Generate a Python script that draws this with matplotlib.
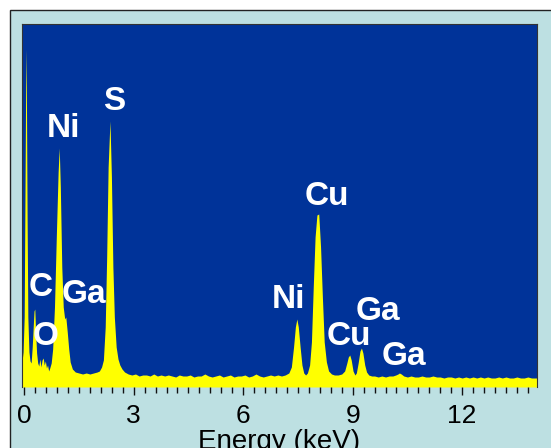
import matplotlib.pyplot as plt
from matplotlib.patches import Rectangle
from matplotlib.ticker import MultipleLocator

# EDS spectrum (energy in keV, counts in arbitrary units)
energy = [-0.06, -0.03, 0.0, 0.02, 0.04, 0.05, 0.06, 0.08, 0.10, 0.13, 0.16, 0.19,
          0.22, 0.25, 0.27, 0.29, 0.31, 0.34, 0.37, 0.40, 0.43, 0.46, 0.49, 0.52,
          0.55, 0.58, 0.61, 0.64, 0.67, 0.70, 0.74, 0.78, 0.83, 0.88, 0.93, 0.96,
          0.99, 1.03, 1.07, 1.11, 1.14, 1.18, 1.22, 1.26, 1.32, 1.40, 1.50, 1.60,
          1.70, 1.80, 1.90, 2.00, 2.06, 2.12, 2.17, 2.22, 2.26, 2.30, 2.35, 2.39,
          2.43, 2.47, 2.52, 2.57, 2.62, 2.68, 2.75, 2.85, 2.95, 3.05, 3.15, 3.25,
          3.35, 3.45, 3.55, 3.65, 3.75, 3.85, 3.95, 4.05, 4.15, 4.25, 4.35, 4.45,
          4.55, 4.65, 4.75, 4.85, 4.95, 5.05, 5.15, 5.25, 5.35, 5.45, 5.55, 5.65,
          5.75, 5.85, 5.95, 6.05, 6.15, 6.25, 6.35, 6.45, 6.55, 6.65, 6.75, 6.85,
          6.95, 7.05, 7.15, 7.25, 7.32, 7.38, 7.43, 7.47, 7.51, 7.56, 7.61, 7.66,
          7.71, 7.76, 7.82, 7.87, 7.92, 7.97, 8.02, 8.07, 8.12, 8.17, 8.22, 8.28,
          8.34, 8.42, 8.50, 8.60, 8.70, 8.78, 8.84, 8.88, 8.92, 8.96, 9.01, 9.06,
          9.10, 9.15, 9.20, 9.24, 9.28, 9.33, 9.38, 9.44, 9.52, 9.60, 9.70, 9.80,
          9.90, 10.00, 10.10, 10.18, 10.24, 10.28, 10.33, 10.40, 10.50, 10.60,
          10.70, 10.80, 10.90, 11.00, 11.10, 11.20, 11.30, 11.40, 11.50, 11.60,
          11.70, 11.80, 11.90, 12.00, 12.10, 12.20, 12.30, 12.40, 12.50, 12.60,
          12.70, 12.80, 12.90, 13.00, 13.10, 13.20, 13.30, 13.40, 13.50, 13.60,
          13.70, 13.80, 13.90, 14.05]
counts = [25, 35, 70, 180, 300, 338, 300, 170, 70, 35, 26, 24,
          40, 62, 76, 78, 58, 34, 24, 21, 28, 20, 27, 29,
          22, 26, 19, 22, 16, 19, 24, 38, 80, 150, 215, 239,
          200, 120, 80, 68, 70, 55, 38, 25, 18, 15, 14, 13,
          14, 13, 14, 15, 16, 20, 27, 60, 130, 220, 266, 210,
          120, 70, 40, 28, 22, 18, 15, 13, 12, 13, 11, 12,
          12, 11, 13, 11, 12, 11, 12, 11, 10, 12, 11, 11,
          12, 10, 11, 11, 13, 11, 10, 11, 12, 10, 11, 12,
          10, 11, 11, 12, 10, 11, 13, 11, 10, 11, 12, 11,
          12, 11, 12, 14, 20, 40, 60, 68, 60, 40, 22, 14,
          12, 14, 22, 45, 100, 150, 172, 173, 140, 90, 45, 25,
          16, 13, 12, 12, 13, 16, 24, 30, 32, 27, 16, 12,
          14, 24, 36, 39, 34, 22, 15, 12, 11, 11, 10, 11,
          10, 11, 11, 12, 13, 14, 13, 11, 10, 11,
          10, 10, 11, 10, 10, 11, 10, 10, 9, 10,
          10, 9, 10, 9, 10, 9, 10, 9, 10, 9,
          10, 9, 9, 10, 9, 10, 9, 9, 10, 9,
          9, 10, 9, 9]

peak_labels = [("S", 2.46, 277), ("Ni", 1.07, 250), ("C", 0.46, 91),
               ("Ga", 1.63, 84), ("O", 0.59, 42), ("Cu", 8.29, 182),
               ("Ni", 7.25, 79), ("Cu", 8.90, 42), ("Ga", 9.68, 67),
               ("Ga", 10.41, 22)]

major_ticks = [0, 3, 6, 9, 12]

plt.rcParams['font.family'] = ['Liberation Sans', 'DejaVu Sans']

fig = plt.figure(figsize=(5.51, 4.48), dpi=100, facecolor='white')
# light blue panel with a dark frame, running off the right and bottom edges
frame = Rectangle((10 / 551, -0.2), 1.2, 1.2 - 10 / 448,
                  transform=fig.transFigure, facecolor='#bde0e2',
                  edgecolor='#222222', linewidth=1.0, zorder=-10)
fig.add_artist(frame)

ax = fig.add_axes([22 / 551, 61 / 448, 515 / 551, 363 / 448])
ax.set_zorder(1)
ax.set_facecolor('#003399')
ax.fill_between(energy, counts, 0, color='#ffff00', linewidth=0)

for txt, x, y in peak_labels:
    ax.text(x, y, txt, color='white', fontsize=24, fontweight='bold',
            ha='center', va='baseline')

ax.set_xlim(-0.06, 14.05)
ax.set_ylim(0, 363)
ax.set_xticks(major_ticks)
ax.xaxis.set_minor_locator(MultipleLocator(0.3))
ax.tick_params(axis='x', which='major', length=6, width=1, pad=6,
               labelsize=19, color='#111111')
ax.tick_params(axis='x', which='minor', length=4, width=1, color='#111111')
ax.set_yticks([])
for side in ['left', 'top', 'right']:
    ax.spines[side].set_color('#333333')
    ax.spines[side].set_linewidth(0.8)
ax.spines['bottom'].set_visible(False)
ax.set_xlabel("Energy (keV)", fontsize=20, labelpad=1)

fig.savefig("out.png", dpi=100, facecolor=fig.get_facecolor())
